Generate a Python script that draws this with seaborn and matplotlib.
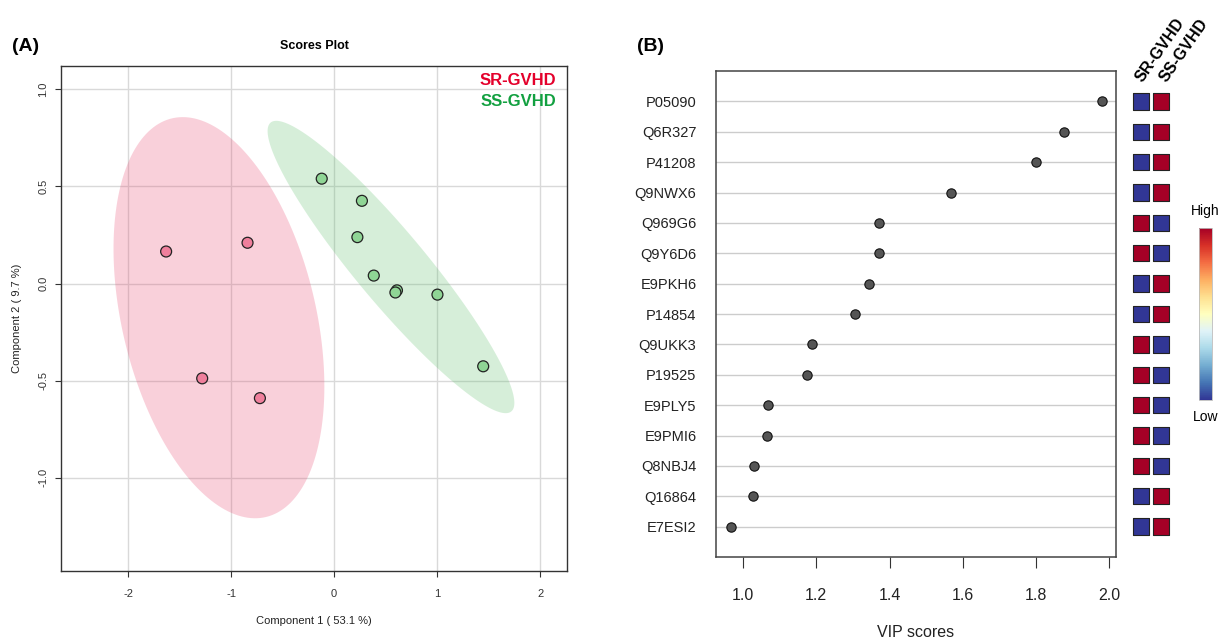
import numpy as np
import pandas as pd
import seaborn as sns
import matplotlib.pyplot as plt
import matplotlib as mpl

# --- data ---
sr_x = [-1.63, -0.84, -1.28, -0.72]
sr_y = [0.165, 0.21, -0.488, -0.59]
ss_x = [-0.12, 0.27, 0.226, 0.385, 0.61, 0.595, 1.003, 1.447]
ss_y = [0.54, 0.426, 0.239, 0.041, -0.035, -0.046, -0.057, -0.426]

proteins = ['P05090', 'Q6R327', 'P41208', 'Q9NWX6', 'Q969G6', 'Q9Y6D6', 'E9PKH6', 'P14854',
            'Q9UKK3', 'P19525', 'E9PLY5', 'E9PMI6', 'Q8NBJ4', 'Q16864', 'E7ESI2']
vip = [1.980, 1.876, 1.800, 1.568, 1.371, 1.371, 1.344, 1.306,
       1.188, 1.175, 1.068, 1.065, 1.030, 1.027, 0.967]
# 1 = high, 0 = low  (SR-GVHD, SS-GVHD)
sr_level = [0, 0, 0, 0, 1, 1, 0, 0, 1, 1, 1, 1, 1, 0, 0]
ss_level = [1, 1, 1, 1, 0, 0, 1, 1, 0, 0, 0, 0, 0, 1, 1]
groups = ['SR-GVHD', 'SS-GVHD']

plt.rcParams['font.family'] = ['Liberation Sans', 'DejaVu Sans']
plt.rcParams['axes.unicode_minus'] = False

scores = pd.DataFrame({
    'x': sr_x + ss_x,
    'y': sr_y + ss_y,
    'group': ['SR-GVHD'] * len(sr_x) + ['SS-GVHD'] * len(ss_x),
})
point_col = {'SR-GVHD': '#EF7F9C', 'SS-GVHD': '#8FD595'}
ell_col = {'SR-GVHD': '#E8466E', 'SS-GVHD': '#5CBF6A'}
text_col = {'SR-GVHD': '#E4002B', 'SS-GVHD': '#12A040'}

fig = plt.figure(figsize=(12.18, 6.41), dpi=100)

# ---------------- (A) scores plot ----------------
ax = fig.add_axes([0.0501, 0.1092, 0.4154, 0.7878])
ax.set_xlim(-2.65, 2.26)
ax.set_ylim(-1.48, 1.12)
ax.set_xticks([-2, -1, 0, 1, 2])
ax.set_yticks([-1.0, -0.5, 0.0, 0.5, 1.0])
ax.grid(True, color='#D9D9D9', lw=1)
ax.set_axisbelow(True)

# 95% confidence ellipses from the group covariance
t = np.sqrt(-2 * np.log(0.05))
theta = np.linspace(0, 2 * np.pi, 200)
for g, sub in scores.groupby('group'):
    pts = sub[['x', 'y']].to_numpy()
    mu = pts.mean(axis=0)
    L = np.linalg.cholesky(np.cov(pts.T))
    circ = np.vstack([np.cos(theta), np.sin(theta)])
    ell = mu[:, None] + t * L @ circ
    ax.fill(ell[0], ell[1], color=ell_col[g], alpha=0.25, lw=0, zorder=1)

sns.scatterplot(data=scores, x='x', y='y', hue='group', palette=point_col,
                s=62, edgecolor='#222222', linewidth=0.9, legend=False, ax=ax, zorder=3)

ax.set_xlabel('Component 1 ( 53.1 %)', fontsize=8, color='#222222', labelpad=12)
ax.set_ylabel('Component 2 ( 9.7 %)', fontsize=8, color='#222222', labelpad=12)
ax.tick_params(axis='both', direction='out', length=4, color='#333333',
               labelsize=8, labelcolor='#333333', pad=9)
ax.tick_params(axis='y', pad=5)
for lab in ax.get_yticklabels():
    lab.set_rotation(90)
    lab.set_va('center')
for sp in ax.spines.values():
    sp.set_color('#333333')
    sp.set_linewidth(1)
ax.set_title('Scores Plot', fontsize=9, fontweight='bold', pad=12)
for i, g in enumerate(groups):
    ax.text(0.978, 0.972 - i * 0.042, g, transform=ax.transAxes, ha='right', va='center',
            fontsize=12, fontweight='bold', color=text_col[g])
fig.text(0.010, 0.928, '(A)', fontsize=14, fontweight='bold', va='center')

# ---------------- (B) VIP scores ----------------
n = len(proteins)
vip_df = pd.DataFrame({'protein': proteins, 'vip': vip, 'row': np.arange(n, 0, -1)})

bx = fig.add_axes([0.5878, 0.1310, 0.3284, 0.7582])
sns.scatterplot(data=vip_df, x='vip', y='row', color='#555555', s=45,
                edgecolor='#111111', linewidth=0.8, ax=bx, zorder=3)
bx.set_xlim(0.926, 2.018)
bx.set_ylim(0, n + 1)
bx.set_yticks(vip_df['row'])
bx.set_yticklabels(vip_df['protein'])
bx.set_xticks([1.0, 1.2, 1.4, 1.6, 1.8, 2.0])
bx.set_xticklabels(['1.0', '1.2', '1.4', '1.6', '1.8', '2.0'])
bx.grid(True, axis='y', color='#CCCCCC', lw=1)
bx.grid(False, axis='x')
bx.set_axisbelow(True)
bx.tick_params(axis='y', length=0, labelsize=10.5, labelcolor='#222222', pad=14)
bx.tick_params(axis='x', direction='out', length=8, color='#333333',
               labelsize=11.5, labelcolor='#222222', pad=14)
bx.set_xlabel('VIP scores', fontsize=11.5, color='#222222', labelpad=16)
bx.set_ylabel('')
for sp in bx.spines.values():
    sp.set_color('#444444')
    sp.set_linewidth(1.1)
fig.text(0.523, 0.928, '(B)', fontsize=14, fontweight='bold', va='center')

# side heatmap of group levels
hx = fig.add_axes([1131 / 1218, 0.1310, 40 / 1218, 0.7582])
cmap = plt.get_cmap('RdYlBu_r')
heat = pd.DataFrame({'SR-GVHD': sr_level, 'SS-GVHD': ss_level}, index=proteins)
for j, g in enumerate(groups):
    hx.scatter(np.full(n, j), vip_df['row'], c=heat[g], cmap=cmap, vmin=0, vmax=1,
               marker='s', s=138, edgecolors='#222222', linewidths=0.8)
    hx.text(j * 1.2 + 0.08, n + 0.62, g, rotation=55, rotation_mode='anchor', ha='left',
            va='baseline', fontsize=11.5, fontweight='bold')
hx.set_xlim(-0.5, 1.5)
hx.set_ylim(0, n + 1)
hx.axis('off')

# colour key
cx = fig.add_axes([1199 / 1218, 241 / 641, 13 / 1218, 172 / 641])
cb = fig.colorbar(mpl.cm.ScalarMappable(norm=mpl.colors.Normalize(0, 1), cmap=cmap), cax=cx)
cb.set_ticks([])
cb.outline.set_edgecolor('#BBBBBB')
cb.outline.set_linewidth(0.6)
cx.text(0.5, 1.06, 'High', transform=cx.transAxes, ha='center', va='bottom', fontsize=10)
cx.text(0.5, -0.06, 'Low', transform=cx.transAxes, ha='center', va='top', fontsize=10)

fig.savefig('out.png', dpi=100)
